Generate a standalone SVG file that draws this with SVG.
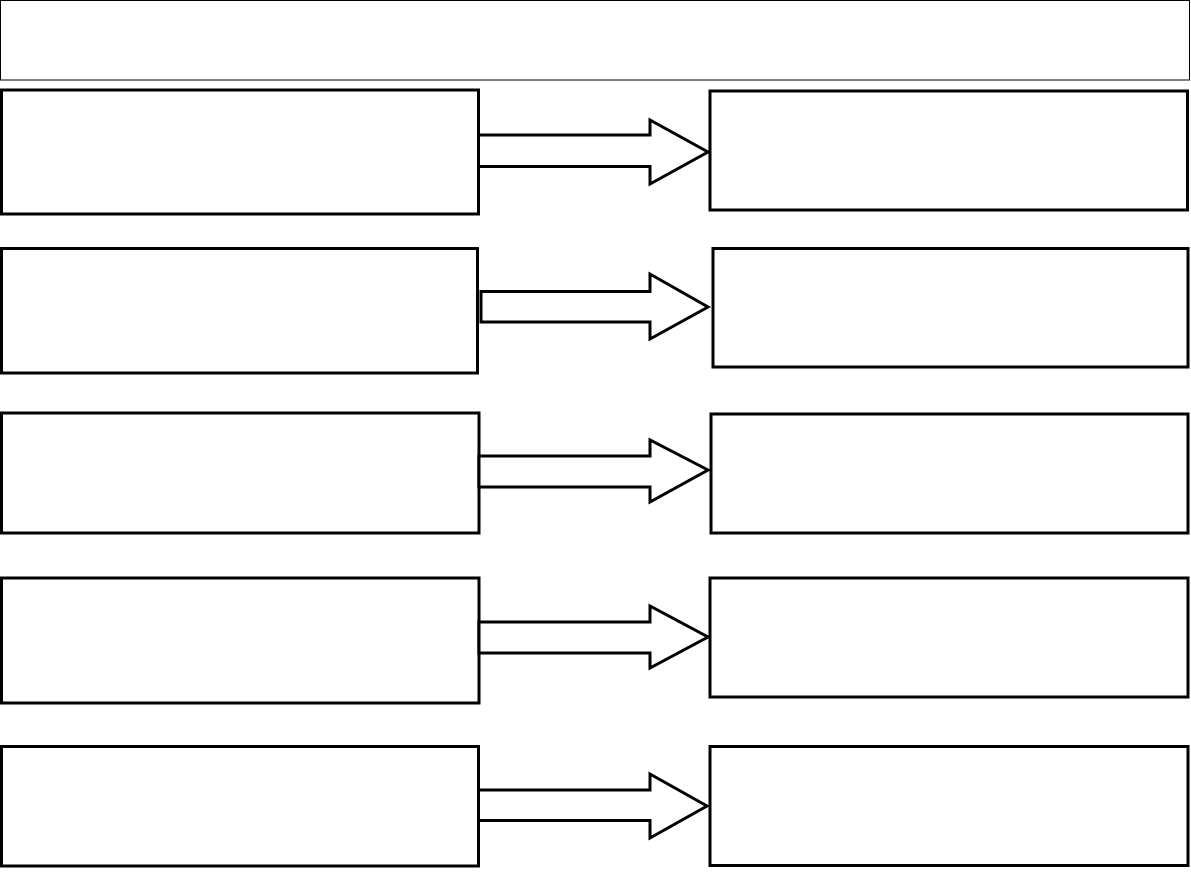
<svg xmlns="http://www.w3.org/2000/svg" width="1191" height="893" viewBox="0 0 1191 893">
<style>
.box{fill:#fff;stroke:#000;stroke-width:3}
.title{fill:#fff;stroke:#000;stroke-width:1}
.arr{fill:#fff;stroke:#000;stroke-width:3;stroke-linejoin:miter}
</style>
<rect width="1191" height="893" fill="#fff"/>
<g id="title"><rect class="title" x="0.5" y="0.5" width="1189" height="79.5"/></g>
<g id="L1"><rect class="box" x="1.5" y="90" width="477" height="124"/></g>
<g id="R1"><rect class="box" x="710" y="91" width="477.5" height="119"/></g>
<g id="L2"><rect class="box" x="1.5" y="248.5" width="476" height="124.5"/></g>
<g id="R2"><rect class="box" x="713" y="248.5" width="475" height="118.5"/></g>
<g id="L3"><rect class="box" x="1.5" y="413" width="477.5" height="120"/></g>
<g id="R3"><rect class="box" x="711" y="414" width="477" height="119"/></g>
<g id="L4"><rect class="box" x="1.5" y="578" width="477.5" height="125"/></g>
<g id="R4"><rect class="box" x="710" y="578" width="478" height="119"/></g>
<g id="L5"><rect class="box" x="1.5" y="746.5" width="477" height="119.5"/></g>
<g id="R5"><rect class="box" x="710" y="746.5" width="478" height="119"/></g>
<g id="connectors">
<polygon class="arr" points="478.5,135 650,135 650,120 708,152 650,184 650,166.5 478.5,166.5"/>
<polygon class="arr" points="481,291.5 650,291.5 650,274 708,307 650,339 650,322 481,322"/>
<polygon class="arr" points="479,456 650,456 650,440 708,470 650,502 650,487 479,487"/>
<polygon class="arr" points="479,622 650,622 650,606 708,637 650,668 650,653 479,653"/>
<polygon class="arr" points="478.5,790 650,790 650,774 707,806 650,838 650,820.5 478.5,820.5"/>
</g>
</svg>
